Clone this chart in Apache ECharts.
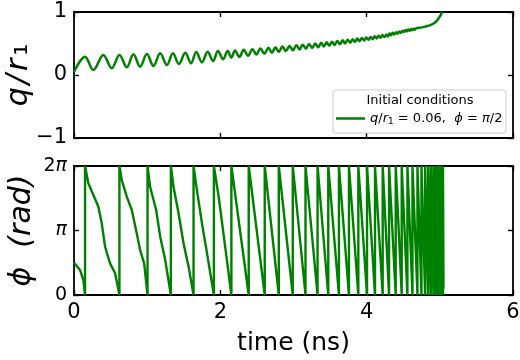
<!DOCTYPE html>
<html><head><meta charset="utf-8">
<script src="https://cdn.jsdelivr.net/npm/echarts@6/dist/echarts.min.js"></script>
<style>html,body{margin:0;padding:0;background:#fff}#c{width:520px;height:360px}</style>
</head><body><div id="c"></div>
<script>
// Shared time axis (ns)
const timeMin = 0, timeMax = 6, timeStep = 2;
// q/r1 axis
const qMin = -1, qMax = 1, qStep = 1;
// phase axis labels: 0, pi, 2pi
const phiTickLabels = ['0', '{p|π}', '{n|2}{p|π}'];

// q/r1 versus time: [t (ns), q/r1]
const qTrace = [
  [0,0.05],[0.151,0.29],[0.264,0.08],[0.401,0.317],[0.516,0.106],[0.621,0.317],
  [0.722,0.122],[0.812,0.328],[0.904,0.132],[0.996,0.333],[1.086,0.143],[1.178,0.344],
  [1.27,0.159],[1.352,0.344],[1.434,0.175],[1.521,0.354],[1.599,0.185],[1.671,0.365],
  [1.749,0.201],[1.826,0.37],[1.9,0.222],[1.968,0.381],[2.037,0.25],[2.1,0.381],
  [2.15,0.275],
  [2.201,0.389],[2.2605,0.286],[2.32,0.399],[2.379,0.305],[2.438,0.41],[2.493,0.324],
  [2.548,0.42],[2.6025,0.339],[2.657,0.431],[2.705,0.353],[2.753,0.441],[2.799,0.366],
  [2.849,0.451],[2.897,0.379],[2.945,0.461],[2.9925,0.392],[3.04,0.472],[3.0835,0.405],
  [3.127,0.482],[3.1705,0.418],[3.214,0.492],[3.2555,0.43],[3.297,0.501],[3.338,0.442],
  [3.379,0.511],[3.4155,0.453],[3.452,0.52],[3.4885,0.463],[3.525,0.529],[3.5615,0.476],
  [3.598,0.539],[3.6345,0.489],[3.671,0.55],[3.7055,0.501],[3.74,0.56],[3.774,0.513],
  [3.808,0.569],[3.84,0.525],[3.872,0.579],[3.904,0.536],[3.936,0.588],[3.966,0.547],
  [3.996,0.596],[4.0255,0.558],[4.055,0.605],[4.0825,0.569],[4.11,0.615],[4.137,0.58],
  [4.164,0.624],[4.1905,0.591],[4.217,0.633],[4.243,0.602],[4.269,0.642],[4.291,0.611],
  [4.313,0.66],[4.3345,0.631],[4.356,0.669],[4.379,0.643],[4.402,0.68],[4.4245,0.656],
  [4.447,0.692],[4.4675,0.668],[4.488,0.702],[4.5085,0.681],[4.529,0.713],[4.5485,0.691],
  [4.568,0.721],[4.5875,0.701],[4.607,0.729],[4.6245,0.71],[4.642,0.735],[4.659,0.719],
  [4.676,0.742],[4.74,0.752],[4.8,0.768],[4.877,0.795],[4.93,0.83],[4.968,0.873],
  [4.995,0.92],[5.014,0.955],[5.027,0.99],[5.033,1.0]
];

// phase versus time: [t (ns), phi (rad)], wrapping from 0 back to 2pi
const phiTrace = [
  [0,1.571],[0.082,1.22],[0.128,0.73],[0.151,0],
  [0.151,6.283],[0.196,5.44],[0.265,4.87],[0.333,4.3],[0.379,3.49],[0.425,2.35],[0.493,1.54],[0.562,1.06],[0.621,0],
  [0.621,6.283],[0.653,5.6],[0.721,4.79],[0.79,4.14],[0.858,3.0],[0.904,2.19],[0.959,1.54],[1.005,0],
  [1.005,6.283],[1.04,5.27],[1.123,4.14],[1.178,2.84],[1.247,1.7],[1.324,0],
  [1.324,6.283],[1.36,5.27],[1.429,3.98],[1.497,2.52],[1.566,1.38],[1.634,0],
  [1.634,6.283],[1.68,5.11],[1.749,3.49],[1.818,2.03],[1.912,0],
  [1.912,6.283],[1.977,4.79],[2.09,1.7],[2.151,0],
  [2.151,6.283],[2.388,0],[2.388,6.283],[2.607,0],[2.607,6.283],[2.799,0],
  [2.799,6.283],[2.99,0],[2.99,6.283],[3.164,0],[3.164,6.283],[3.329,0],
  [3.329,6.283],[3.475,0],[3.475,6.283],[3.621,0],[3.621,6.283],[3.758,0],
  [3.758,6.283],[3.886,0],[3.886,6.283],[4.005,0],[4.005,6.283],[4.114,0],
  [4.114,6.283],[4.219,0],[4.219,6.283],[4.306,0],[4.306,6.283],[4.397,0],
  [4.397,6.283],[4.479,0],[4.479,6.283],[4.557,0],[4.557,6.283],[4.626,0],
  [4.626,6.283],[4.694,0],[4.694,6.283],[4.749,0],[4.749,6.283],[4.799,0],
  [4.799,6.283],[4.84,0],[4.84,6.283],[4.877,0],[4.877,6.283],[4.913,0],
  [4.913,6.283],[4.945,0],[4.945,6.283],[4.968,0],[4.968,6.283],[4.99,0],
  [4.99,6.283],[5.009,0],[5.009,6.283],[5.024,0],[5.024,6.283],[5.035,0],
  [5.035,6.283],[5.043,0],[5.043,6.283],[5.05,0.3]
];

const FONT = 'DejaVu Sans';
const GREEN = '#008000';
const frameLine = { show: true, onZero: false, lineStyle: { color: '#000', width: 1.8 } };
const innerTick = { show: true, inside: true, length: 5, lineStyle: { color: '#000', width: 1.4 } };

function timeAxis(grid, pos, labels) {
  const ax = {
    type: 'value', gridIndex: grid, position: pos, min: timeMin, max: timeMax, interval: timeStep,
    axisLine: frameLine, axisTick: innerTick, splitLine: { show: false },
    axisLabel: { show: labels, color: '#000', fontFamily: FONT, fontSize: 21, margin: 7 }
  };
  if (labels) {
    ax.name = 'time (ns)';
    ax.nameLocation = 'middle';
    ax.nameGap = 36;
    ax.nameTextStyle = { color: '#000', fontFamily: FONT, fontSize: 25 };
  }
  return ax;
}

const chart = echarts.init(document.getElementById('c'), null, { renderer: 'canvas' });
chart.setOption({
  animation: false,
  backgroundColor: '#fff',
  grid: [
    { left: 74, right: 7, top: 12, height: 126, containLabel: false, outerBoundsMode: 'none' },
    { left: 74, right: 7, top: 166, height: 129, containLabel: false, outerBoundsMode: 'none' }
  ],
  xAxis: [
    timeAxis(0, 'bottom', false),
    timeAxis(0, 'top', false),
    timeAxis(1, 'bottom', true),
    timeAxis(1, 'top', false)
  ],
  yAxis: [
    {
      type: 'value', gridIndex: 0, position: 'left', min: qMin, max: qMax, interval: qStep,
      axisLine: frameLine, axisTick: innerTick, splitLine: { show: false },
      axisLabel: { color: '#000', fontFamily: FONT, fontSize: 21, margin: 7,
        formatter: v => (v < 0 ? '\u2212' + Math.abs(v) : String(v)) },
      name: '{i|q}{i|/}{i|r}{n|₁}', nameLocation: 'middle', nameRotate: 90, nameGap: 40,
      nameMoveOverlap: false,
      nameTextStyle: { color: '#000', rich: {
        i: { fontFamily: FONT, fontStyle: 'italic', fontSize: 30, color: '#000', padding: [0, 1.5] },
        n: { fontFamily: FONT, fontSize: 30, color: '#000', padding: [0, 1.5] } } }
    },
    {
      type: 'value', gridIndex: 0, position: 'right', min: qMin, max: qMax, interval: qStep,
      axisLine: frameLine, axisTick: innerTick, splitLine: { show: false }, axisLabel: { show: false }
    },
    {
      type: 'value', gridIndex: 1, position: 'left', min: 0, max: 2 * Math.PI, interval: Math.PI,
      axisLine: frameLine, axisTick: innerTick, splitLine: { show: false },
      axisLabel: { color: '#000', fontFamily: FONT, fontSize: 19, margin: 7,
        formatter: v => phiTickLabels[Math.round(v / Math.PI)],
        rich: {
          n: { fontFamily: FONT, fontSize: 19, color: '#000' },
          p: { fontFamily: FONT, fontStyle: 'italic', fontSize: 19, color: '#000' } } },
      name: 'ϕ  (rad)', nameLocation: 'middle', nameRotate: 90, nameGap: 37,
      nameMoveOverlap: false,
      nameTextStyle: { color: '#000', fontFamily: FONT, fontStyle: 'italic', fontSize: 30 }
    },
    {
      type: 'value', gridIndex: 1, position: 'right', min: 0, max: 2 * Math.PI, interval: Math.PI,
      axisLine: frameLine, axisTick: innerTick, splitLine: { show: false }, axisLabel: { show: false }
    }
  ],
  graphic: [
    { type: 'rect', z: 5, shape: { x: 333, y: 90, width: 173, height: 43, r: 3 },
      style: { fill: 'rgba(255,255,255,0.8)', stroke: '#cccccc', lineWidth: 1 } },
    { type: 'text', z: 6, x: 420, y: 101,
      style: { text: 'Initial conditions', font: '13px "DejaVu Sans"', fill: '#000',
        textAlign: 'center', textVerticalAlign: 'middle' } }
  ],
  legend: {
    data: ['q'], left: 336, top: 112, z: 7, icon: 'rect', itemWidth: 29, itemHeight: 2.5, padding: 0,
    formatter: () => '{i|q}{t|/}{i|r}{s|1}{t| = 0.06,  }{i|ϕ}{t| = }{i|π}{t|/2}',
    textStyle: { color: '#000', fontSize: 13, fontFamily: FONT,
      rich: {
        i: { fontFamily: FONT, fontStyle: 'italic', fontSize: 13, color: '#000', lineHeight: 16 },
        t: { fontFamily: FONT, fontSize: 13, color: '#000', lineHeight: 16 },
        s: { fontFamily: FONT, fontSize: 9, color: '#000', lineHeight: 10, verticalAlign: 'bottom', padding: [4, 0, 0, 0] }
      } }
  },
  series: [
    { name: 'q', type: 'line', xAxisIndex: 0, yAxisIndex: 0, data: qTrace, showSymbol: false,
      symbol: 'none', smooth: 0.35, lineStyle: { color: GREEN, width: 2.5 }, itemStyle: { color: GREEN } },
    { name: 'phi', type: 'line', xAxisIndex: 2, yAxisIndex: 2, data: phiTrace, showSymbol: false,
      symbol: 'none', lineStyle: { color: GREEN, width: 2.4 }, itemStyle: { color: GREEN } }
  ]
});
</script></body></html>
